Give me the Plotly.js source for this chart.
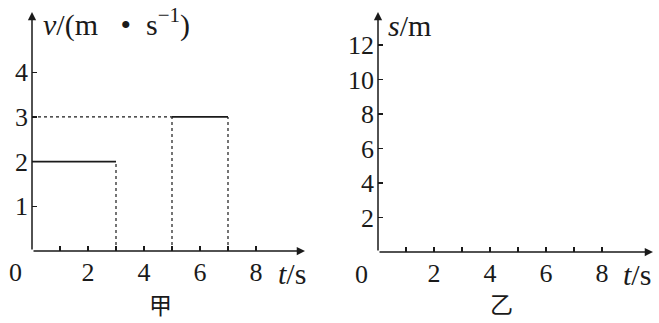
<!DOCTYPE html>
<html><head><meta charset="utf-8">
<script src="https://cdn.plot.ly/plotly-3.0.1.min.js"></script>
<style>html,body{margin:0;padding:0;background:#fff}</style>
</head><body><div id="c" style="width:659px;height:323px"></div>
<script>
// Left panel (甲): v-t graph segments
const tSeg1 = [0, 3], vSeg1 = [2, 2];
const tSeg2 = [5, 7], vSeg2 = [3, 3];
// dotted guide lines
const tGuideA = [3, 3], vGuideA = [0, 2];
const tGuideB = [5, 5], vGuideB = [0, 3];
const tGuideC = [7, 7], vGuideC = [0, 3];
const tGuideD = [0, 5], vGuideD = [3, 3];
// ticks
const leftXTicks = [1,2,3,4,5,6,7,8];
const leftXText = ['','2','','4','','6','','8'];
const leftYTicks = [1,2,3,4];
const rightXTicks = [1,2,3,4,5,6,7,8];
const rightXText = ['','2','','4','','6','','8'];
const rightYTicks = [2,4,6,8,10,12];

const F = "'Liberation Serif', 'DejaVu Serif', serif";
const black = '#1a1a1a';
const W = 659, H = 323;
const solid = {color: black, width: 1.6};
const dot = {color: black, width: 1.2, dash: 'dot'};
const traces = [
  {x: tSeg1, y: vSeg1, mode: 'lines', line: solid, xaxis: 'x', yaxis: 'y'},
  {x: tSeg2, y: vSeg2, mode: 'lines', line: solid, xaxis: 'x', yaxis: 'y'},
  {x: tGuideA, y: vGuideA, mode: 'lines', line: dot, xaxis: 'x', yaxis: 'y'},
  {x: tGuideB, y: vGuideB, mode: 'lines', line: dot, xaxis: 'x', yaxis: 'y'},
  {x: tGuideC, y: vGuideC, mode: 'lines', line: dot, xaxis: 'x', yaxis: 'y'},
  {x: tGuideD, y: vGuideD, mode: 'lines', line: dot, xaxis: 'x', yaxis: 'y'},
  {x: [], y: [], mode: 'lines', xaxis: 'x2', yaxis: 'y2'}
];
const tickFont = {family: F, size: 26, color: black};
function xa(dom, rng, vals, text){
  return {domain: dom, range: rng, showgrid: false, zeroline: false, showline: false,
    tickmode: 'array', tickvals: vals, ticktext: text, ticks: 'inside', ticklen: 5,
    tickwidth: 1.4, tickcolor: black, tickfont: tickFont, ticklabelstandoff: 3, fixedrange: true};
}
function ya(dom, rng, vals, anchor){
  return {domain: dom, range: rng, showgrid: false, zeroline: false, showline: false,
    tickmode: 'array', tickvals: vals, ticktext: vals.map(String), ticks: 'inside', ticklen: 5,
    tickwidth: 1.4, tickcolor: black, tickfont: tickFont, ticklabelstandoff: 3, anchor: anchor, fixedrange: true};
}
function arrow(xr, yr, x, y){
  return {xref: xr, yref: yr, axref: xr, ayref: yr, x: x, y: y, ax: 0, ay: 0, text: '',
    showarrow: true, arrowhead: 2, arrowsize: 1.1, arrowwidth: 1.5, arrowcolor: black};
}
function lbl(px, py, text, size, xanchor, fam){
  return {xref: 'paper', yref: 'paper', x: px / W, y: 1 - py / H, text: text, showarrow: false,
    xanchor: xanchor || 'center', yanchor: 'middle', font: {family: fam || F, size: size || 26, color: black}};
}
const layout = {
  width: W, height: H, margin: {l: 0, r: 0, t: 0, b: 0},
  font: {family: F},
  paper_bgcolor: '#fff', plot_bgcolor: 'rgba(0,0,0,0)', showlegend: false,
  xaxis: xa([32/W, 305/W], [0, 273/28], leftXTicks, leftXText),
  yaxis: ya([(H-251)/H, (H-12)/H], [0, 239/44.7], leftYTicks, 'x'),
  xaxis2: Object.assign(xa([378/W, 653/W], [0, 275/28], rightXTicks, rightXText), {anchor: 'y2'}),
  yaxis2: ya([(H-252)/H, (H-12)/H], [0, 240/17.25], rightYTicks, 'x2'),
  annotations: [
    arrow('x', 'y', 273/28, 0), arrow('x', 'y', 0, 239/44.7),
    arrow('x2', 'y2', 275/28, 0), arrow('x2', 'y2', 0, 240/17.25),
    lbl(41, 22, "<i>v</i>/(m&nbsp;&nbsp;&nbsp;•&nbsp;&nbsp;s<sup>−1</sup>)", 30, 'left'),
    lbl(15, 272, '0'),
    lbl(276, 273, '<i>t</i>/s', 30, 'left'),
    lbl(160, 304, '甲', 23, 'center', "'Noto Sans CJK SC'"),
    lbl(386, 25, '<i>s</i>/m', 30, 'left'),
    lbl(362, 274, '0'),
    lbl(621, 274, '<i>t</i>/s', 30, 'left'),
    lbl(501, 303, '乙', 23, 'center', "'Noto Sans CJK SC'")
  ]
};
Plotly.newPlot('c', traces, layout, {staticPlot: true, displayModeBar: false});
</script></body></html>
